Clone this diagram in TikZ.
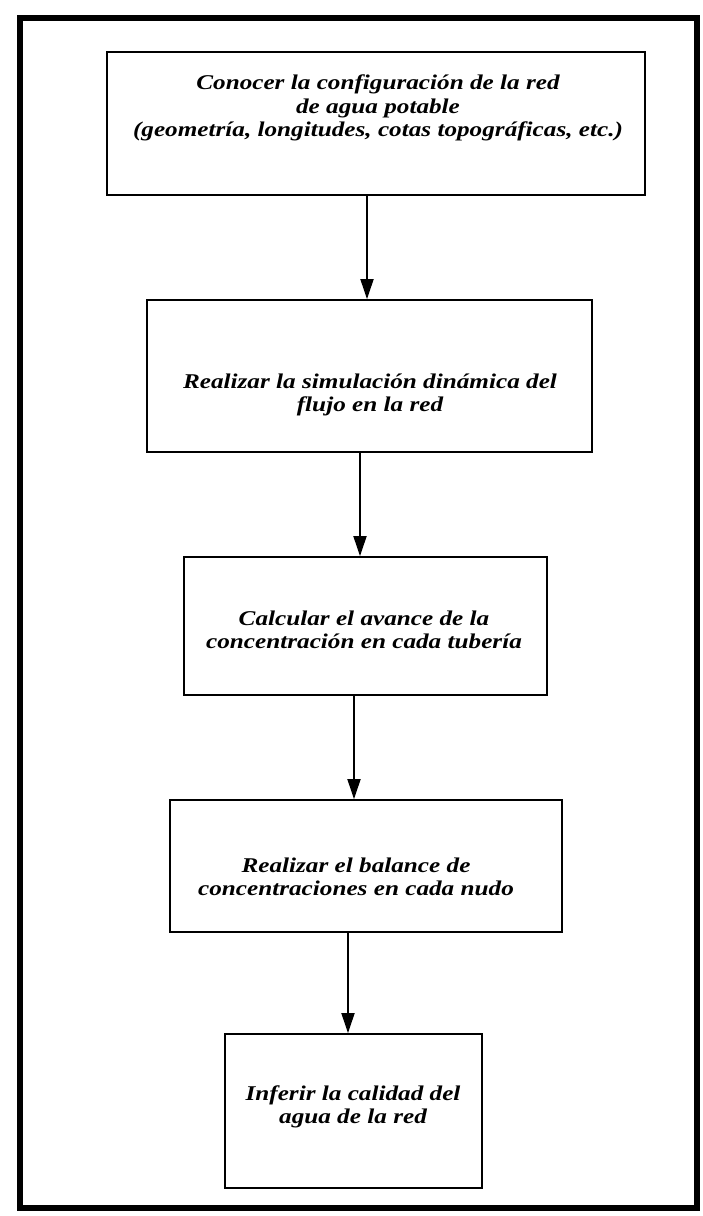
\documentclass[tikz,border=0pt]{standalone}
\usepackage{fontspec}
\setmainfont{Liberation Serif}
\newfontfamily\boxfont[FakeStretch=1.2]{Liberation Serif}
\usetikzlibrary{arrows.meta}
\begin{document}
\begin{tikzpicture}[x=1pt,y=-1pt,
  boxst/.style={draw,line width=1.8pt,rectangle,inner sep=0pt},
  txt/.style={font=\boxfont\fontsize{21}{23.5}\selectfont\bfseries\itshape,align=center,inner sep=0pt},
  arr/.style={line width=1.8pt,-{Triangle[length=20pt,width=13pt]}}]
\useasboundingbox (0,0) rectangle (703,1216);
\draw[line width=6pt] (20,18) rectangle (697,1208);
\node[boxst,minimum width=538pt,minimum height=143pt] (b1) at (376,123.5) {};
\node[boxst,minimum width=445pt,minimum height=152pt] (b2) at (369.5,376) {};
\node[boxst,minimum width=363pt,minimum height=138pt] (b3) at (365.5,626) {};
\node[boxst,minimum width=392pt,minimum height=132pt] (b4) at (366,866) {};
\node[boxst,minimum width=257pt,minimum height=154pt] (b5) at (353.5,1111) {};
\node[txt] (t1) at (378,108) {Conocer la configuración de la red\\de agua potable\\(geometría, longitudes, cotas topográficas, etc.)};
\node[txt] (t2) at (370,395) {Realizar la simulación dinámica del\\flujo en la red};
\node[txt] (t3) at (364,630) {Calcular el avance de la\\concentración en cada tubería};
\node[txt] (t4) at (356,877) {Realizar el balance de\\concentraciones en cada nudo};
\node[txt] (t5) at (353,1107) {Inferir la calidad del\\agua de la red};
\coordinate (x1) at (367,0);
\coordinate (x2) at (360,0);
\coordinate (x3) at (354,0);
\coordinate (x4) at (348,0);
\draw[arr] (b1.south -| x1) -- (b2.north -| x1);
\draw[arr] (b2.south -| x2) -- (b3.north -| x2);
\draw[arr] (b3.south -| x3) -- (b4.north -| x3);
\draw[arr] (b4.south -| x4) -- (b5.north -| x4);
\end{tikzpicture}
\end{document}
